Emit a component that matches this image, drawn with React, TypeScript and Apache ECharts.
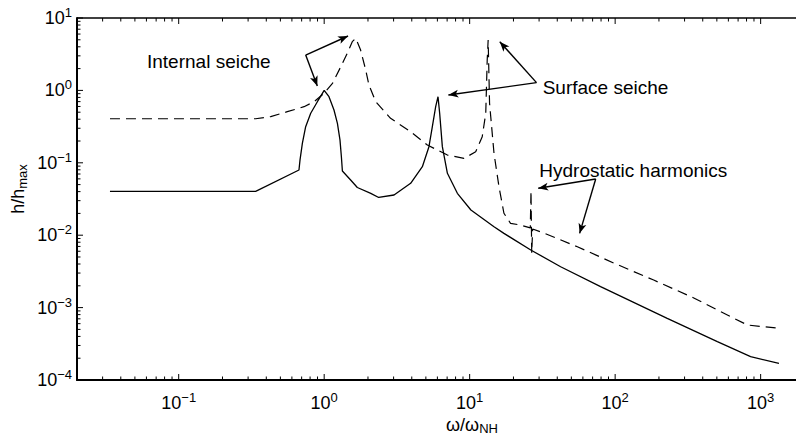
import React, { useEffect, useRef } from "react";
import * as echarts from "echarts";

// ---- Data, raw units: ω/ω_NH and h/h_max ----
const solidOmega = [0.0337, 0.338, 0.671, 0.682, 0.708, 0.746, 0.808, 0.898, 0.972, 1.0, 1.079, 1.168, 1.233, 1.284, 1.313, 1.334, 1.52, 1.69, 2.09, 2.37, 3.02, 3.93, 4.73, 5.25, 5.54, 5.84, 6.06, 6.22, 6.49, 7.03, 8.23, 10.2, 14.7, 17.2, 26.3, 42.2, 79.4, 228, 504, 853, 1336];
const solidH = [0.0404, 0.0404, 0.0796, 0.109, 0.186, 0.315, 0.483, 0.698, 0.912, 1.0, 0.818, 0.536, 0.351, 0.207, 0.121, 0.0771, 0.0578, 0.0456, 0.0379, 0.0332, 0.0359, 0.0521, 0.0883, 0.167, 0.315, 0.596, 0.818, 0.483, 0.167, 0.0716, 0.0379, 0.0223, 0.0131, 0.0106, 0.00625, 0.00367, 0.00195, 0.000711, 0.000338, 0.00021, 0.00017];

const dashOmega = [0.0337, 0.338, 0.429, 0.558, 0.727, 0.851, 1.0, 1.14, 1.3, 1.44, 1.56, 1.65, 1.78, 1.93, 2.03, 2.26, 2.86, 3.93, 5.12, 7.03, 9.14, 11.0, 12.2, 12.9, 13.2, 13.4, 13.7, 14.7, 15.9, 17.2, 19.1, 22.4, 26.1, 26.4, 26.7, 27.1, 32.3, 55.0, 97.7, 184, 347, 504, 811, 1336];
const dashH = [0.406, 0.406, 0.434, 0.508, 0.596, 0.698, 0.912, 1.25, 2.12, 3.25, 4.71, 5.25, 3.61, 1.91, 1.19, 0.698, 0.412, 0.269, 0.176, 0.128, 0.115, 0.142, 0.229, 0.483, 2.63, 4.97, 0.664, 0.135, 0.0468, 0.0201, 0.0146, 0.0138, 0.0126, 0.0407, 0.00568, 0.0122, 0.0107, 0.00693, 0.00413, 0.0024, 0.00136, 0.000927, 0.000575, 0.000518];

// Tick exponents (labels are 10^n)
const xMajorExp = [-1, 0, 1, 2, 3];
const yMajorExp = [-4, -3, -2, -1, 0, 1];

// Annotations: label, vertex (ω,h), arrow target A, arrow target B
const annLabels = ["Internal seiche", "Surface seiche", "Hydrostatic harmonics"];
const annVertex = [[0.746, 3.08], [28.8, 1.28], [73.5, 0.0597]];
const annTargetA = [[1.459, 5.64], [16.1, 4.71], [29.6, 0.0445]];
const annTargetB = [[0.897, 1.15], [7.14, 0.863], [57.0, 0.0106]];

const X_MIN = 0.02;
const X_MAX = 1750;
const Y_MIN = 1e-4;
const Y_MAX = 10;

const FONT = '"Liberation Sans", Arial, Helvetica, sans-serif';
const L = (v: number) => Math.log10(v);

function minorTicks(lo: number, hi: number): number[] {
  const out: number[] = [];
  for (let e = Math.floor(lo) - 1; e <= Math.ceil(hi); e++) {
    for (let k = 2; k <= 9; k++) {
      const v = e + Math.log10(k);
      if (v > lo + 1e-6 && v < hi - 1e-6) out.push(v);
    }
  }
  return out;
}

const supFmt = (v: number) => {
  const n = Math.round(v);
  return `{b|10}{s|${n < 0 ? "\u2212" + Math.abs(n) : String(n)}}`;
};

const labelRich = {
  b: { fontSize: 18, fontFamily: FONT, color: "#000" },
  s: { fontSize: 13, fontFamily: FONT, color: "#000", padding: [0, 0, 11, 0] },
};

const GRID = { left: 77, right: 0, top: 18, bottom: 57 };
const W = 796, H = 437;

export default function App() {
  const ref = useRef<HTMLDivElement>(null);

  useEffect(() => {
    if (!ref.current) return;
    const chart = echarts.init(ref.current, undefined, { renderer: "svg" });

    const xmin = L(X_MIN), xmax = L(X_MAX), ymin = L(Y_MIN), ymax = L(Y_MAX);
    const xMinor = minorTicks(xmin, xmax);
    const yMinor = minorTicks(ymin, ymax);

    const solid = solidOmega.map((w, i) => [L(w), L(solidH[i])]);
    const dashed = dashOmega.map((w, i) => [L(w), L(dashH[i])]);

    const arrows: any[] = [];
    annVertex.forEach((v, i) => {
      const p = [L(v[0]), L(v[1])];
      arrows.push([{ coord: p }, { coord: [L(annTargetA[i][0]), L(annTargetA[i][1])] }]);
      arrows.push([{ coord: p }, { coord: [L(annTargetB[i][0]), L(annTargetB[i][1])] }]);
    });

    const blk = "#000";

    // Tick marks as short segments of a line series (gaps break the polyline).
    const plotW = W - GRID.left - GRID.right;
    const plotH = H - GRID.top - GRID.bottom;
    const dxPerPx = (xmax - xmin) / plotW;
    const dyPerPx = (ymax - ymin) / plotH;
    const MAJ = 6, MIN = 3.5;
    const GAP: any = ["-", "-"];
    const tickData: any[] = [];
    const addX = (v: number, len: number) => {
      tickData.push([v, ymin], [v, ymin + len * dyPerPx], GAP);
      tickData.push([v, ymax], [v, ymax - len * dyPerPx], GAP);
    };
    const addY = (v: number, len: number) => {
      tickData.push([xmin, v], [xmin + len * dxPerPx, v], GAP);
    };
    xMajorExp.forEach((v) => addX(v, MAJ));
    xMinor.forEach((v) => addX(v, MIN));
    yMajorExp.forEach((v) => addY(v, MAJ));
    yMinor.forEach((v) => addY(v, MIN));

    const frameData: any[] = [[xmin, ymax], [xmax, ymax]];

    const textGraphics: any[] = [
      { type: "text", x: 147, y: 61.7, style: { text: annLabels[0], fontSize: 19, fontFamily: FONT, fill: blk, align: "left", verticalAlign: "middle" } },
      { type: "text", x: 542.7, y: 87.5, style: { text: annLabels[1], fontSize: 19, fontFamily: FONT, fill: blk, align: "left", verticalAlign: "middle" } },
      { type: "text", x: 539.3, y: 170, style: { text: annLabels[2], fontSize: 19, fontFamily: FONT, fill: blk, align: "left", verticalAlign: "middle" } },
      {
        type: "text",
        x: 472,
        y: 424.5,
        style: {
          text: "{a|\u03c9/\u03c9}{b|NH}",
          align: "center",
          verticalAlign: "middle",
          fill: blk,
          rich: {
            a: { fontSize: 18, fontFamily: FONT, fill: blk },
            b: { fontSize: 13, fontFamily: FONT, fill: blk, padding: [8, 0, 0, 0] },
          },
        },
      },
      {
        type: "text",
        x: 18,
        y: 189,
        rotation: Math.PI / 2,
        style: {
          text: "{a|h/h}{b|max}",
          align: "center",
          verticalAlign: "middle",
          fill: blk,
          rich: {
            a: { fontSize: 18, fontFamily: FONT, fill: blk },
            b: { fontSize: 13, fontFamily: FONT, fill: blk, padding: [8, 0, 0, 0] },
          },
        },
      },
    ];

    const option: any = {
      animation: false,
      backgroundColor: "#fff",
      grid: { ...GRID, containLabel: false },
      xAxis: {
        type: "value",
        min: xmin,
        max: xmax,
        position: "bottom",
        splitLine: { show: false },
        axisLine: { show: true, onZero: false, lineStyle: { color: blk, width: 2 } },
        axisTick: { show: false },
        axisLabel: { show: true, customValues: xMajorExp, margin: 11, formatter: supFmt, rich: labelRich },
      },
      yAxis: {
        type: "value",
        min: ymin,
        max: ymax,
        interval: 1,
        position: "left",
        splitLine: { show: false },
        axisLine: { show: true, onZero: false, lineStyle: { color: blk, width: 2 } },
        axisTick: { show: false },
        axisLabel: { show: true, customValues: yMajorExp, margin: 5, formatter: supFmt, rich: labelRich },
      },
      series: [
        {
          name: "solid",
          type: "line",
          data: solid,
          showSymbol: false,
          symbol: "none",
          silent: true,
          lineStyle: { color: blk, width: 1.3, type: "solid" },
        },
        {
          name: "dashed",
          type: "line",
          data: dashed,
          showSymbol: false,
          symbol: "none",
          silent: true,
          lineStyle: { color: blk, width: 1.2, type: [10, 6] },
        },
        {
          name: "ticks",
          type: "line",
          data: tickData,
          showSymbol: false,
          symbol: "none",
          silent: true,
          clip: false,
          connectNulls: false,
          z: 6,
          lineStyle: { color: blk, width: 1, type: "solid" },
        },
        {
          name: "frame",
          type: "line",
          data: frameData,
          showSymbol: false,
          symbol: "none",
          silent: true,
          clip: false,
          z: 6,
          lineStyle: { color: blk, width: 1.6, type: "solid" },
        },
        {
          name: "arrows",
          type: "line",
          data: [],
          markLine: {
            silent: true,
            animation: false,
            symbol: ["none", "arrow"],
            symbolSize: [6, 10],
            label: { show: false },
            emphasis: { disabled: true },
            lineStyle: { color: blk, width: 1.4, type: "solid" },
            data: arrows,
          },
        },
      ],
      graphic: textGraphics,
    };

    chart.setOption(option);
    return () => chart.dispose();
  }, []);

  return (
    <div
      ref={ref}
      style={{ position: "absolute", left: 0, top: 0, width: W, height: H, background: "#fff" }}
    />
  );
}
